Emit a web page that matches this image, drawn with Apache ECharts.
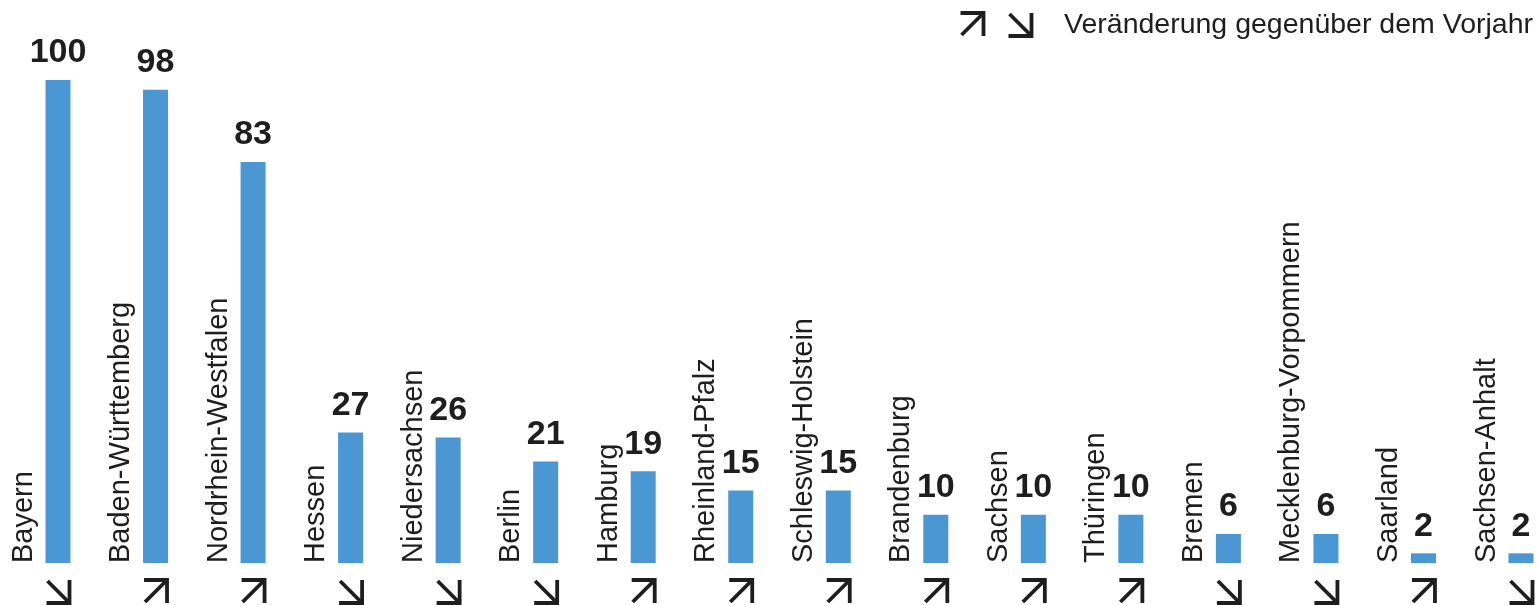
<!DOCTYPE html>
<html>
<head>
<meta charset="utf-8">
<script src="https://cdn.jsdelivr.net/npm/echarts@6/dist/echarts.min.js"></script>
<style>
html, body { margin: 0; padding: 0; background: #fff; }
#chart { width: 1537px; height: 605px; }
</style>
</head>
<body>
<div id="chart"></div>
<script>
var states = ['Bayern', 'Baden-Württemberg', 'Nordrhein-Westfalen', 'Hessen', 'Niedersachsen', 'Berlin',
    'Hamburg', 'Rheinland-Pfalz', 'Schleswig-Holstein', 'Brandenburg', 'Sachsen', 'Thüringen',
    'Bremen', 'Mecklenburg-Vorpommern', 'Saarland', 'Sachsen-Anhalt'];
var counts = [100, 98, 83, 27, 26, 21, 19, 15, 15, 10, 10, 10, 6, 6, 2, 2];
// 1 = gestiegen, -1 = gesunken
var trend = [-1, 1, 1, -1, -1, -1, 1, 1, 1, 1, 1, 1, -1, -1, 1, -1];

var FONT = '"Liberation Sans", Arial, sans-serif';
var INK = '#1e1e1e';
var BLUE = '#4b97d4';

// Pfeil als zwei Linien (Schaft + Winkel), s = Kantenlänge
function arrow(cx, y0, dir, s) {
    var l = cx - s / 2, r = cx + s / 2, b = y0 + s;
    var st = { stroke: INK, lineWidth: 3.8, fill: null, lineJoin: 'miter', lineCap: 'butt' };
    if (dir > 0) {
        return [
            { type: 'line', shape: { x1: l + 1, y1: b - 1, x2: r - 1, y2: y0 + 1 }, style: st },
            { type: 'polyline', shape: { points: [[l, y0], [r, y0], [r, b]] }, style: st }
        ];
    }
    return [
        { type: 'line', shape: { x1: l + 1, y1: y0 + 1, x2: r - 1, y2: b - 1 }, style: st },
        { type: 'polyline', shape: { points: [[r, y0], [r, b], [l, b]] }, style: st }
    ];
}

var myChart = echarts.init(document.getElementById('chart'));
var option = {
    animation: false,
    grid: { left: 58, right: 16, top: 80, bottom: 42 },
    xAxis: {
        type: 'category',
        data: states,
        boundaryGap: false,
        axisLine: { show: false },
        axisTick: { show: false },
        axisLabel: { show: false },
        splitLine: { show: false }
    },
    yAxis: {
        type: 'value',
        min: 0,
        max: 100,
        show: false,
        splitLine: { show: false }
    },
    graphic: [
        { type: 'group', children: arrow(972, 13, 1, 23) },
        { type: 'group', children: arrow(1020, 13, -1, 23) },
        {
            type: 'text', left: 1064, top: 11,
            style: { text: 'Veränderung gegenüber dem Vorjahr', fill: INK, font: '28.5px ' + FONT }
        }
    ],
    series: [{
        type: 'bar',
        data: counts,
        barWidth: 25,
        itemStyle: { color: BLUE },
        label: {
            show: true,
            position: 'top',
            distance: 10,
            color: INK,
            fontFamily: FONT,
            fontWeight: 'bold',
            fontSize: 34
        }
    }, {
        type: 'custom',
        data: trend.map(function (t, i) { return [i, t]; }),
        encode: { x: 0 },
        renderItem: function (params, api) {
            var i = api.value(0);
            var p = api.coord([i, 0]);
            var children = arrow(p[0], 580, api.value(1), 23);
            children.push({
                type: 'text',
                x: p[0] - 20,
                y: p[1],
                rotation: Math.PI / 2,
                style: {
                    x: 0, y: 0,
                    text: states[i],
                    fill: INK,
                    font: '29px ' + FONT,
                    align: 'left',
                    verticalAlign: 'bottom'
                }
            });
            return { type: 'group', children: children };
        }
    }]
};
myChart.setOption(option);

window.onresize = function () {
    myChart.resize();
};
</script>
</body>
</html>
